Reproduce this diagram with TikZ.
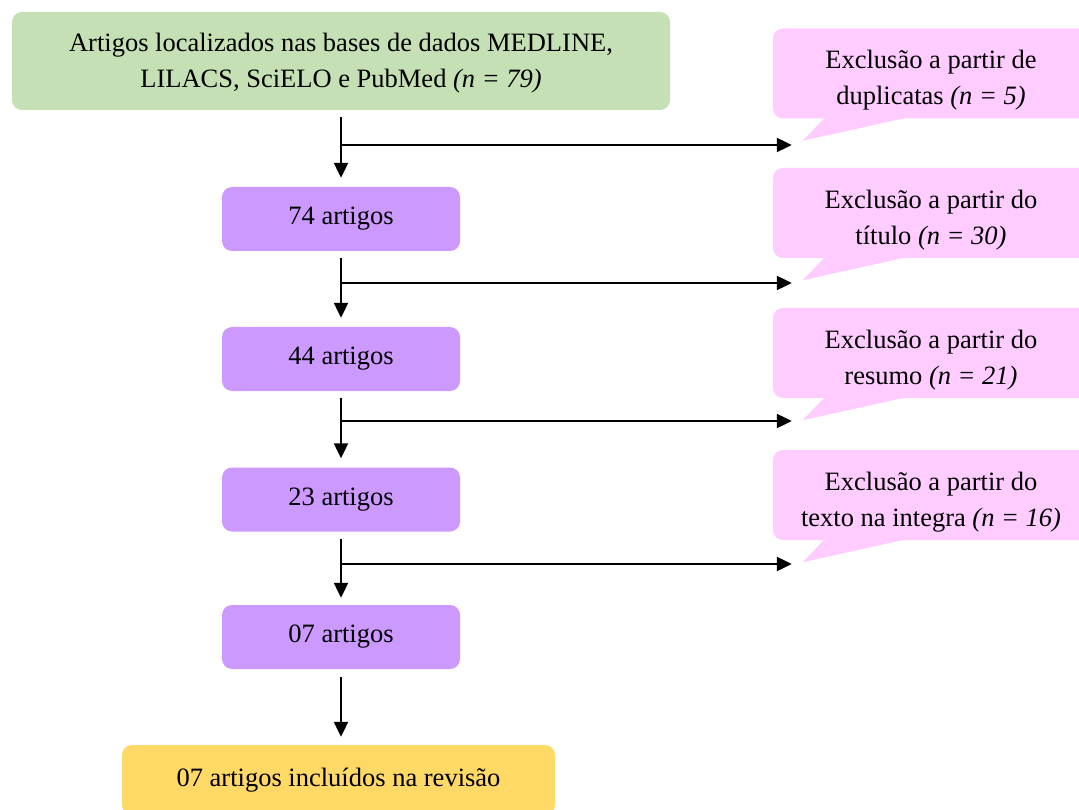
\documentclass[tikz,border=0pt]{standalone}
\usepackage{fontspec}
\setmainfont{Liberation Serif}
\usetikzlibrary{arrows.meta,calc}
\definecolor{cgreen}{HTML}{C5E0B4}
\definecolor{cpurple}{HTML}{CC99FF}
\definecolor{cpink}{HTML}{FFCCFF}
\definecolor{cyellow}{HTML}{FFD966}
\begin{document}
\begin{tikzpicture}[x=1pt,y=-1pt,
  font=\fontsize{26.5}{36}\selectfont,
  box/.style={rounded corners=10pt,inner sep=0pt,align=center,text=black},
  greenbox/.style={box,fill=cgreen,minimum width=658pt,minimum height=98pt},
  stepbox/.style={box,fill=cpurple,minimum width=238pt,minimum height=64pt},
  finalbox/.style={box,fill=cyellow,minimum width=433pt,minimum height=70pt},
  callbox/.style={box,fill=cpink,minimum width=316pt,minimum height=90pt},
  calltext/.style={inner sep=0pt,align=center,text=black},
  tail/.style={fill=cpink},
  arr/.style={line width=2.2pt,-{Triangle[length=15pt,width=14pt]}}
]
\path[use as bounding box,clip] (0,0) rectangle (1079,810);

% main column
\node[greenbox] (g) at (341,61) {};
\node[calltext] (gt) at (341,63) {Artigos localizados nas bases de dados MEDLINE,\\LILACS, SciELO e PubMed \textit{(n = 79)}};
\node[stepbox] (p1) at (341,219) {74 artigos};
\node[stepbox] (p2) at (341,359) {44 artigos};
\node[stepbox] (p3) at (341,499.5) {23 artigos};
\node[stepbox] (p4) at (341,637) {07 artigos};
\node[finalbox] (f) at (338.5,780) {07 artigos incluídos na revisão};

% callouts
\node[callbox] (c1) at (931,73.5) {};
\node[callbox] (c2) at (931,213) {};
\node[callbox] (c3) at (931,353) {};
\node[callbox] (c4) at (931,495) {};
\node[calltext] (c1t) at ($(c1)+(0,7)$) {Exclusão a partir de\\duplicatas \textit{(n = 5)}};
\node[calltext] (c2t) at ($(c2)+(0,7)$) {Exclusão a partir do\\título \textit{(n = 30)}};
\node[calltext] (c3t) at ($(c3)+(0,7)$) {Exclusão a partir do\\resumo \textit{(n = 21)}};
\node[calltext] (c4t) at ($(c4)+(0,7)$) {Exclusão a partir do\\texto na integra \textit{(n = 16)}};

\foreach \c in {c1,c2,c3,c4}{
  \coordinate (\c tip) at ($(\c.south west)+(30,22)$);
  \coordinate (\c end) at ($(\c tip)+(-11,0)$);
  \fill[tail] ($(\c.south west)+(52,-1)$) -- (\c tip) -- ($(\c.south west)+(134,-1)$) -- cycle;
}

% vertical arrows
\draw[arr,shorten <=7pt,shorten >=9pt] (g.south) -- (p1.north);
\draw[arr,shorten <=7pt,shorten >=9pt] (p1.south) -- (p2.north);
\draw[arr,shorten <=7pt,shorten >=9pt] (p2.south) -- (p3.north);
\draw[arr,shorten <=7pt,shorten >=7pt] (p3.south) -- (p4.north);
\draw[arr,shorten <=8pt,shorten >=8pt] (p4.south) -- (p4.south |- f.north);

% horizontal arrows
\coordinate (h1) at (342,145);
\coordinate (h2) at (342,283);
\coordinate (h3) at (342,421);
\coordinate (h4) at (342,564);
\draw[arr] (h1) -- (h1 -| c1end);
\draw[arr] (h2) -- (h2 -| c2end);
\draw[arr] (h3) -- (h3 -| c3end);
\draw[arr] (h4) -- (h4 -| c4end);
\end{tikzpicture}
\end{document}
